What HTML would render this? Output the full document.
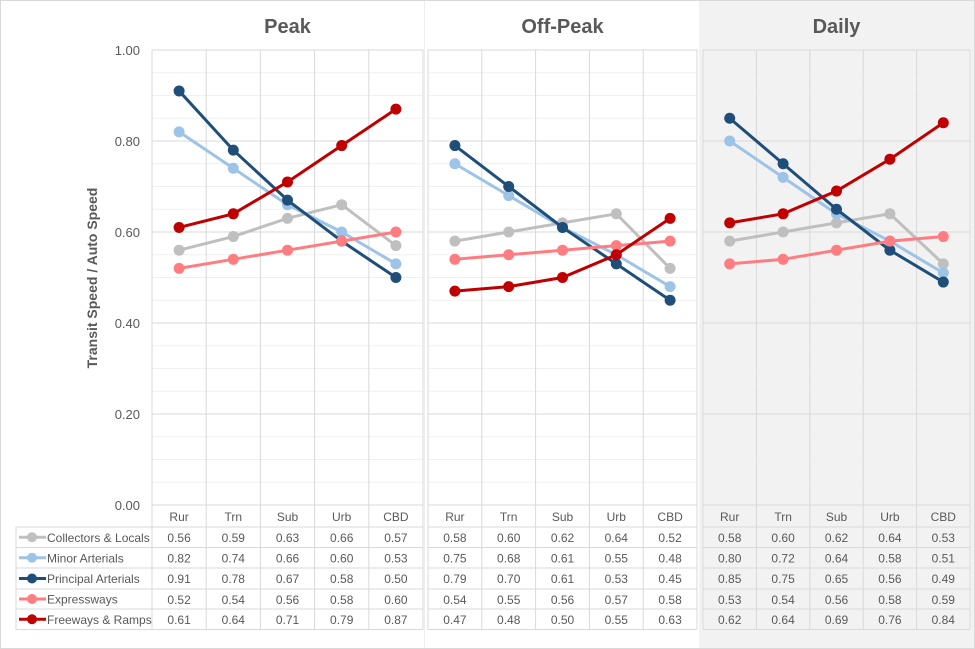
<!DOCTYPE html>
<html><head><meta charset="utf-8"><style>
body{margin:0;background:#fff;font-family:"Liberation Sans",sans-serif}
svg{display:block}
</style></head><body>
<svg id="c" width="975" height="649" xmlns="http://www.w3.org/2000/svg"></svg>
<script>
const categories=["Rur","Trn","Sub","Urb","CBD"];
const panels=["Peak","Off-Peak","Daily"];
const seriesNames=["Collectors & Locals","Minor Arterials","Principal Arterials","Expressways","Freeways & Ramps"];
const seriesColors=["#bfbfbf","#9dc3e6","#1f4e79","#ff7c80","#c00000"];
const peakCollectors=[0.56,0.59,0.63,0.66,0.57];
const peakMinor=[0.82,0.74,0.66,0.60,0.53];
const peakPrincipal=[0.91,0.78,0.67,0.58,0.50];
const peakExpress=[0.52,0.54,0.56,0.58,0.60];
const peakFreeways=[0.61,0.64,0.71,0.79,0.87];
const offCollectors=[0.58,0.60,0.62,0.64,0.52];
const offMinor=[0.75,0.68,0.61,0.55,0.48];
const offPrincipal=[0.79,0.70,0.61,0.53,0.45];
const offExpress=[0.54,0.55,0.56,0.57,0.58];
const offFreeways=[0.47,0.48,0.50,0.55,0.63];
const dayCollectors=[0.58,0.60,0.62,0.64,0.53];
const dayMinor=[0.80,0.72,0.64,0.58,0.51];
const dayPrincipal=[0.85,0.75,0.65,0.56,0.49];
const dayExpress=[0.53,0.54,0.56,0.58,0.59];
const dayFreeways=[0.62,0.64,0.69,0.76,0.84];
const yTicks=[0,0.2,0.4,0.6,0.8,1.0];
const data=[[peakCollectors,peakMinor,peakPrincipal,peakExpress,peakFreeways],
[offCollectors,offMinor,offPrincipal,offExpress,offFreeways],
[dayCollectors,dayMinor,dayPrincipal,dayExpress,dayFreeways]];
const plotX=[[152,423],[428,697],[703,970]];
const yTop=50,yBot=505;
const y=v=>yBot-(yBot-yTop)*v;
const svg=document.getElementById('c');
const NS="http://www.w3.org/2000/svg";
function mk(t,a,p){const e=document.createElementNS(NS,t);for(const k in a)e.setAttribute(k,a[k]);(p||svg).appendChild(e);return e;}
const bg=mk('rect',{x:699,y:0,width:276,height:649,fill:'#f2f2f2'});


mk('line',{x1:424.5,y1:0,x2:424.5,y2:649,stroke:'#eeeeee'});
mk('rect',{x:0.5,y:0.5,width:974,height:648,fill:'none',stroke:'#d9d9d9'});
const rowY=[527,547.5,568,589,609,629.5];
panels.forEach((p,pi)=>{
  const [x0,x1]=plotX[pi];const w=(x1-x0)/5;const x=i=>x0+w*(i+0.5);
  const g=mk('g',{});
  
  
  if(pi<2) mk('rect',{x:x0,y:yTop,width:x1-x0,height:yBot-yTop,fill:'#fff'},g);
  for(let k=1;k<20;k++){mk('line',{x1:x0,x2:x1,y1:y(k*0.05),y2:y(k*0.05),stroke:k%4==0?'#d9d9d9':'#f0f0f0'},g);}
  for(let i=0;i<=5;i++){mk('line',{x1:x0+w*i,x2:x0+w*i,y1:yTop,y2:rowY[5],stroke:'#d9d9d9'},g);}
  mk('rect',{x:x0,y:yTop,width:x1-x0,height:yBot-yTop,fill:'none',stroke:'#d9d9d9'},g);
  const t=mk('text',{x:(x0+x1)/2,y:33,'text-anchor':'middle','font-size':20,'font-weight':'bold',fill:'#595959'},g);t.textContent=p;
  
  
  categories.forEach((c,i)=>{const l=mk('text',{x:x(i),y:521,'text-anchor':'middle','font-size':12,fill:'#595959'},g);l.textContent=c;});
  for(let r=0;r<6;r++) mk('line',{x1:x0,x2:x1,y1:rowY[r],y2:rowY[r],stroke:'#d9d9d9'},g);
  data[pi].forEach((s,si)=>{
    const pts=s.map((v,i)=>x(i)+','+y(v)).join(' ');
    const pl=mk('polyline',{points:pts,fill:'none',stroke:seriesColors[si],'stroke-width':3},g);
    
    
    s.forEach((v,i)=>{
      const c=mk('circle',{cx:x(i),cy:y(v),r:5.5,fill:seriesColors[si]},g);
      
      
      const tv=mk('text',{x:x(i),y:rowY[si]+15,'text-anchor':'middle','font-size':12,fill:'#595959'},g);tv.textContent=v.toFixed(2);
    });
  });
});
yTicks.forEach(v=>{const t=mk('text',{x:140,y:y(v)+5,'text-anchor':'end','font-size':13,fill:'#595959'});t.textContent=v.toFixed(2);

});
const yt=mk('text',{transform:'translate(97,278) rotate(-90)','text-anchor':'middle','font-size':14,'font-weight':'bold',fill:'#595959'});yt.textContent='Transit Speed / Auto Speed';


mk('rect',{x:16,y:rowY[0],width:136,height:rowY[5]-rowY[0],fill:'none',stroke:'#d9d9d9'});
seriesNames.forEach((n,si)=>{
  const cy=(rowY[si]+rowY[si+1])/2;
  mk('line',{x1:19,x2:46,y1:cy,y2:cy,stroke:seriesColors[si],'stroke-width':3});
  mk('circle',{cx:32,cy:cy,r:5,fill:seriesColors[si]});
  const t=mk('text',{x:47,y:cy+4.5,'font-size':12,fill:'#595959'});t.textContent=n;
  
  
  mk('line',{x1:16,x2:152,y1:rowY[si],y2:rowY[si],stroke:'#d9d9d9'});
});
</script>
</body></html>
